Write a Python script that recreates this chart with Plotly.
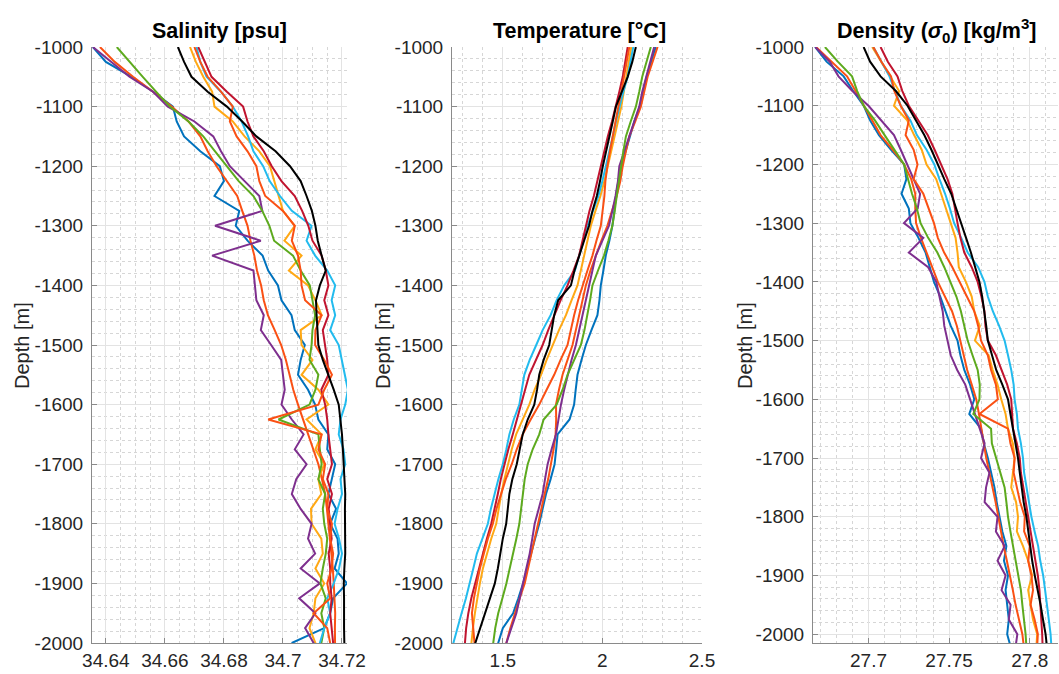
import plotly.graph_objects as go

# ---------------- data ----------------
depth = [-1000, -1025, -1050, -1075, -1100, -1125, -1150, -1175, -1200, -1225,
         -1250, -1275, -1300, -1325, -1350, -1375, -1400, -1425, -1450, -1475,
         -1500, -1525, -1550, -1575, -1600, -1625, -1650, -1675, -1700, -1725,
         -1750, -1775, -1800, -1825, -1850, -1875, -1900, -1925, -1950, -1975,
         -2000, -2025]

series_names = ["blue", "orangered2", "orange", "purple", "green", "cyan", "darkred", "orangered1", "black"]
series_colors = ["#0072BD", "#FA5014", "#FFA814", "#7E2F8E", "#5DAA1E", "#22BBEE", "#C0142F", "#FA5014", "#000000"]

# Salinity [psu]
sal_blue = [34.6356, 34.6400, 34.6487, 34.6560, 34.6627, 34.6640, 34.6665, 34.6720, 34.6786, 34.6800,
            34.6768, 34.6852, 34.6840, 34.6880, 34.6931, 34.6950, 34.6983, 34.6995, 34.7029, 34.7040,
            34.7074, 34.7060, 34.7051, 34.7085, 34.7109, 34.7120, 34.7154, 34.7150, 34.7177, 34.7165,
            34.7154, 34.7180, 34.7160, 34.7185, 34.7189, 34.7175, 34.7217, 34.7170, 34.7160, 34.7140,
            34.7030, 34.7140]
sal_orangered2 = [34.6380, 34.6430, 34.6492, 34.6560, 34.6623, 34.6680, 34.6720, 34.6745, 34.6775, 34.6810,
                  34.6845, 34.6862, 34.6880, 34.6890, 34.6903, 34.6912, 34.6926, 34.6935, 34.6949, 34.6972,
                  34.6994, 34.7010, 34.7023, 34.7035, 34.7051, 34.7068, 34.7086, 34.7103, 34.7120, 34.7132,
                  34.7143, 34.7149, 34.7154, 34.7160, 34.7166, 34.7169, 34.7172, 34.7175, 34.7177, 34.7176,
                  34.7177, 34.7177]
sal_orange = [34.6685, 34.6705, 34.6730, 34.6760, 34.6768, 34.6830, 34.6870, 34.6920, 34.6956, 34.6970,
              34.6985, 34.7000, 34.7040, 34.7005, 34.7063, 34.7020, 34.7085, 34.7110, 34.7131, 34.7060,
              34.7063, 34.7100, 34.7063, 34.7120, 34.7154, 34.7080, 34.7131, 34.7110, 34.7140, 34.7120,
              34.7130, 34.7095, 34.7097, 34.7130, 34.7135, 34.7110, 34.7140, 34.7110, 34.7104, 34.7090,
              34.7110, 34.7120]
sal_purple = [34.6356, 34.6420, 34.6480, 34.6560, 34.6610, 34.6700, 34.6764, 34.6790, 34.6820, 34.6870,
              34.6920, 34.6930, 34.6770, 34.6925, 34.6760, 34.6900, 34.6905, 34.6910, 34.6935, 34.6925,
              34.6960, 34.6994, 34.7000, 34.7006, 34.6995, 34.7030, 34.7070, 34.7040, 34.7080, 34.7045,
              34.7030, 34.7060, 34.7097, 34.7085, 34.7109, 34.7060, 34.7125, 34.7055, 34.7110, 34.7075,
              34.7104, 34.7110]
sal_green = [34.6437, 34.6480, 34.6525, 34.6570, 34.6617, 34.6680, 34.6730, 34.6770, 34.6810, 34.6850,
             34.6900, 34.6930, 34.6954, 34.6970, 34.7034, 34.7060, 34.7091, 34.7100, 34.7109, 34.7100,
             34.7097, 34.7090, 34.7120, 34.7110, 34.7090, 34.6985, 34.7120, 34.7125, 34.7131, 34.7120,
             34.7143, 34.7135, 34.7140, 34.7150, 34.7145, 34.7135, 34.7127, 34.7145, 34.7130, 34.7140,
             34.7130, 34.7135]
sal_cyan = [34.6707, 34.6720, 34.6741, 34.6790, 34.6830, 34.6860, 34.6882, 34.6900, 34.6933, 34.6955,
            34.6990, 34.7030, 34.7097, 34.7080, 34.7109, 34.7150, 34.7177, 34.7165, 34.7177, 34.7160,
            34.7189, 34.7200, 34.7210, 34.7220, 34.7211, 34.7195, 34.7189, 34.7205, 34.7211, 34.7195,
            34.7200, 34.7185, 34.7175, 34.7190, 34.7200, 34.7190, 34.7172, 34.7150, 34.7160, 34.7140,
            34.7125, 34.7130]
sal_darkred = [34.6713, 34.6735, 34.6758, 34.6810, 34.6865, 34.6880, 34.6900, 34.6935, 34.6962, 34.6995,
               34.7040, 34.7065, 34.7086, 34.7100, 34.7131, 34.7145, 34.7154, 34.7140, 34.7154, 34.7135,
               34.7143, 34.7150, 34.7154, 34.7130, 34.7143, 34.7150, 34.7154, 34.7160, 34.7166, 34.7150,
               34.7166, 34.7155, 34.7160, 34.7165, 34.7155, 34.7160, 34.7160, 34.7165, 34.7160, 34.7165,
               34.7170, 34.7165]
sal_orangered1 = [34.6700, 34.6720, 34.6745, 34.6790, 34.6830, 34.6820, 34.6843, 34.6880, 34.6910, 34.6920,
                  34.6940, 34.7000, 34.7040, 34.7030, 34.7051, 34.7060, 34.7063, 34.7075, 34.7131, 34.7110,
                  34.7109, 34.7140, 34.7166, 34.7140, 34.7120, 34.6950, 34.7131, 34.7120, 34.7143, 34.7135,
                  34.7154, 34.7150, 34.7166, 34.7160, 34.7170, 34.7165, 34.7150, 34.7160, 34.7104, 34.7150,
                  34.7160, 34.7155]
sal_black = [34.6644, 34.6665, 34.6690, 34.6745, 34.6810, 34.6862, 34.6910, 34.6975, 34.7024, 34.7060,
             34.7080, 34.7098, 34.7110, 34.7118, 34.7131, 34.7145, 34.7125, 34.7112, 34.7114, 34.7116,
             34.7120, 34.7135, 34.7154, 34.7172, 34.7189, 34.7195, 34.7200, 34.7203, 34.7206, 34.7209,
             34.7211, 34.7210, 34.7211, 34.7212, 34.7211, 34.7208, 34.7206, 34.7207, 34.7206, 34.7207,
             34.7208, 34.7208]

# Temperature [degC]
temp_blue = [2.268, 2.245, 2.222, 2.205, 2.188, 2.160, 2.138, 2.115, 2.095, 2.080,
             2.068, 2.060, 2.050, 2.035, 2.017, 2.005, 1.992, 1.985, 1.975, 1.945,
             1.917, 1.895, 1.875, 1.866, 1.858, 1.835, 1.775, 1.768, 1.760, 1.740,
             1.717, 1.700, 1.683, 1.662, 1.643, 1.622, 1.602, 1.578, 1.552, 1.500,
             1.477, 1.465]
temp_orangered2 = [2.277, 2.252, 2.227, 2.210, 2.193, 2.165, 2.135, 2.118, 2.102, 2.090,
                   2.072, 2.048, 2.025, 1.995, 1.967, 1.940, 1.917, 1.900, 1.883, 1.868,
                   1.850, 1.825, 1.800, 1.782, 1.767, 1.768, 1.765, 1.755, 1.742, 1.728,
                   1.710, 1.692, 1.677, 1.660, 1.643, 1.628, 1.610, 1.585, 1.560, 1.538,
                   1.518, 1.508]
temp_orange = [2.145, 2.132, 2.120, 2.108, 2.095, 2.078, 2.060, 2.043, 2.027, 2.010,
               1.990, 1.965, 1.942, 1.925, 1.908, 1.892, 1.875, 1.845, 1.817, 1.782,
               1.750, 1.720, 1.692, 1.660, 1.633, 1.598, 1.567, 1.545, 1.525, 1.508,
               1.492, 1.478, 1.467, 1.442, 1.420, 1.400, 1.385, 1.372, 1.360, 1.350,
               1.343, 1.335]
temp_purple = [2.260, 2.240, 2.218, 2.200, 2.185, 2.160, 2.135, 2.110, 2.085, 2.078,
               2.066, 2.050, 2.033, 2.000, 1.967, 1.950, 1.933, 1.917, 1.900, 1.885,
               1.867, 1.845, 1.825, 1.808, 1.792, 1.780, 1.767, 1.745, 1.725, 1.712,
               1.700, 1.680, 1.660, 1.648, 1.635, 1.618, 1.600, 1.585, 1.568, 1.542,
               1.518, 1.505]
temp_green = [2.243, 2.222, 2.200, 2.185, 2.168, 2.142, 2.118, 2.105, 2.093, 2.082,
              2.072, 2.062, 2.050, 2.030, 2.008, 1.978, 1.950, 1.938, 1.925, 1.910,
              1.892, 1.858, 1.825, 1.800, 1.770, 1.705, 1.683, 1.650, 1.625, 1.610,
              1.600, 1.590, 1.583, 1.568, 1.552, 1.535, 1.518, 1.498, 1.477, 1.462,
              1.452, 1.442]
temp_cyan = [2.155, 2.142, 2.127, 2.105, 2.085, 2.068, 2.052, 2.035, 2.018, 2.000,
             1.980, 1.952, 1.925, 1.905, 1.883, 1.862, 1.808, 1.770, 1.740, 1.700,
             1.668, 1.635, 1.608, 1.596, 1.583, 1.555, 1.533, 1.518, 1.500, 1.478,
             1.458, 1.440, 1.425, 1.398, 1.370, 1.352, 1.335, 1.315, 1.293, 1.272,
             1.252, 1.235]
temp_darkred = [2.127, 2.115, 2.102, 2.085, 2.068, 2.048, 2.027, 2.010, 1.993, 1.975,
                1.957, 1.935, 1.917, 1.900, 1.883, 1.855, 1.825, 1.790, 1.758, 1.728,
                1.700, 1.665, 1.633, 1.612, 1.592, 1.570, 1.550, 1.528, 1.508, 1.490,
                1.475, 1.458, 1.442, 1.420, 1.400, 1.380, 1.360, 1.342, 1.327, 1.316,
                1.310, 1.302]
temp_orangered1 = [2.135, 2.122, 2.110, 2.095, 2.080, 2.065, 2.050, 2.038, 2.025, 2.015,
                   2.010, 2.000, 1.992, 1.970, 1.950, 1.925, 1.900, 1.878, 1.858, 1.842,
                   1.825, 1.790, 1.758, 1.720, 1.683, 1.640, 1.600, 1.570, 1.545, 1.515,
                   1.490, 1.468, 1.450, 1.425, 1.405, 1.385, 1.370, 1.355, 1.345, 1.350,
                   1.358, 1.355]
temp_black = [2.168, 2.150, 2.127, 2.098, 2.068, 2.052, 2.035, 2.018, 2.002, 1.988,
              1.972, 1.950, 1.933, 1.908, 1.883, 1.860, 1.842, 1.778, 1.758, 1.745,
              1.733, 1.705, 1.683, 1.672, 1.658, 1.625, 1.600, 1.585, 1.570, 1.548,
              1.533, 1.525, 1.517, 1.500, 1.488, 1.475, 1.460, 1.435, 1.410, 1.385,
              1.362, 1.345]

# Density sigma0 [kg/m3]
dens_blue = [27.6669, 27.6740, 27.6846, 27.6905, 27.6970, 27.7010, 27.7065, 27.7140, 27.7221, 27.7235,
             27.7205, 27.7250, 27.7260, 27.7310, 27.7354, 27.7380, 27.7406, 27.7445, 27.7479, 27.7510,
             27.7552, 27.7570, 27.7594, 27.7630, 27.7656, 27.7625, 27.7698, 27.7715, 27.7740, 27.7760,
             27.7781, 27.7795, 27.7813, 27.7830, 27.7855, 27.7840, 27.7865, 27.7850, 27.7860, 27.7870,
             27.7860, 27.7885]
dens_orangered2 = [27.6675, 27.6770, 27.6867, 27.6920, 27.6970, 27.7020, 27.7075, 27.7150, 27.7221, 27.7265,
                   27.7290, 27.7290, 27.7295, 27.7325, 27.7358, 27.7395, 27.7430, 27.7475, 27.7518, 27.7548,
                   27.7570, 27.7592, 27.7612, 27.7640, 27.7668, 27.7685, 27.7700, 27.7715, 27.7730, 27.7750,
                   27.7771, 27.7788, 27.7805, 27.7820, 27.7838, 27.7858, 27.7878, 27.7895, 27.7912, 27.7935,
                   27.7954, 27.7965]
dens_orange = [27.7023, 27.7080, 27.7138, 27.7190, 27.7158, 27.7240, 27.7283, 27.7330, 27.7360, 27.7420,
               27.7450, 27.7480, 27.7510, 27.7540, 27.7552, 27.7560, 27.7604, 27.7640, 27.7656, 27.7690,
               27.7660, 27.7745, 27.7770, 27.7800, 27.7823, 27.7850, 27.7865, 27.7895, 27.7906, 27.7895,
               27.7885, 27.7915, 27.7927, 27.7920, 27.7958, 27.7990, 27.8015, 27.7990, 27.8005, 27.8020,
               27.8046, 27.8040]
dens_purple = [27.6670, 27.6760, 27.6814, 27.6900, 27.7000, 27.7080, 27.7158, 27.7200, 27.7240, 27.7280,
               27.7320, 27.7305, 27.7220, 27.7340, 27.7250, 27.7370, 27.7420, 27.7440, 27.7460, 27.7470,
               27.7490, 27.7510, 27.7550, 27.7600, 27.7630, 27.7660, 27.7690, 27.7720, 27.7698, 27.7750,
               27.7729, 27.7720, 27.7800, 27.7790, 27.7844, 27.7800, 27.7850, 27.7825, 27.7881, 27.7870,
               27.7923, 27.7910]
dens_green = [27.6730, 27.6810, 27.6898, 27.6930, 27.6970, 27.7040, 27.7100, 27.7160, 27.7221, 27.7245,
              27.7270, 27.7300, 27.7323, 27.7370, 27.7427, 27.7470, 27.7510, 27.7545, 27.7573, 27.7595,
              27.7615, 27.7645, 27.7677, 27.7690, 27.7688, 27.7650, 27.7760, 27.7765, 27.7792, 27.7820,
              27.7844, 27.7855, 27.7865, 27.7880, 27.7896, 27.7910, 27.7927, 27.7945, 27.7954, 27.7965,
              27.7974, 27.7980]
dens_cyan = [27.7030, 27.7080, 27.7130, 27.7165, 27.7200, 27.7260, 27.7300, 27.7360, 27.7408, 27.7440,
             27.7475, 27.7505, 27.7531, 27.7575, 27.7615, 27.7680, 27.7719, 27.7740, 27.7771, 27.7810,
             27.7844, 27.7865, 27.7885, 27.7900, 27.7906, 27.7920, 27.7927, 27.7945, 27.7958, 27.7965,
             27.7979, 27.7995, 27.8010, 27.8030, 27.8052, 27.8065, 27.8083, 27.8095, 27.8108, 27.8118,
             27.8129, 27.8135]
dens_darkred = [27.7075, 27.7120, 27.7180, 27.7210, 27.7250, 27.7310, 27.7367, 27.7410, 27.7450, 27.7490,
                27.7520, 27.7535, 27.7552, 27.7570, 27.7594, 27.7640, 27.7677, 27.7700, 27.7719, 27.7725,
                27.7740, 27.7790, 27.7823, 27.7860, 27.7885, 27.7890, 27.7896, 27.7920, 27.7938, 27.7945,
                27.7960, 27.7975, 27.7990, 27.8005, 27.8021, 27.8035, 27.8050, 27.8060, 27.8067, 27.8070,
                27.8077, 27.8080]
dens_orangered1 = [27.7030, 27.7080, 27.7140, 27.7160, 27.7200, 27.7250, 27.7230, 27.7280, 27.7304, 27.7280,
                   27.7340, 27.7375, 27.7406, 27.7430, 27.7469, 27.7520, 27.7563, 27.7610, 27.7656, 27.7680,
                   27.7698, 27.7740, 27.7760, 27.7790, 27.7802, 27.7688, 27.7865, 27.7880, 27.7906, 27.7900,
                   27.7920, 27.7940, 27.7969, 27.7965, 27.8000, 27.7990, 27.8010, 27.8020, 27.8005, 27.8030,
                   27.8050, 27.8045]
dens_black = [27.6970, 27.7010, 27.7075, 27.7170, 27.7242, 27.7295, 27.7346, 27.7390, 27.7429, 27.7470,
              27.7513, 27.7545, 27.7573, 27.7605, 27.7635, 27.7662, 27.7688, 27.7705, 27.7719, 27.7730,
              27.7740, 27.7765, 27.7792, 27.7830, 27.7865, 27.7880, 27.7896, 27.7912, 27.7927, 27.7938,
              27.7948, 27.7962, 27.7979, 27.7990, 27.8000, 27.8015, 27.8031, 27.8050, 27.8067, 27.8082,
              27.8098, 27.8108]

sal_series = [sal_blue, sal_orangered2, sal_orange, sal_purple, sal_green, sal_cyan, sal_darkred, sal_orangered1, sal_black]
temp_series = [temp_blue, temp_orangered2, temp_orange, temp_purple, temp_green, temp_cyan, temp_darkred, temp_orangered1, temp_black]
dens_series = [dens_blue, dens_orangered2, dens_orange, dens_purple, dens_green, dens_cyan, dens_darkred, dens_orangered1, dens_black]

sal_ticks = [34.64, 34.66, 34.68, 34.70, 34.72]
sal_ticktext = ["34.64", "34.66", "34.68", "34.7", "34.72"]
temp_ticks = [1.5, 2.0, 2.5]
temp_ticktext = ["1.5", "2", "2.5"]
dens_ticks = [27.70, 27.75, 27.80]
dens_ticktext = ["27.7", "27.75", "27.8"]
depth_ticks = [-1000, -1100, -1200, -1300, -1400, -1500, -1600, -1700, -1800, -1900, -2000]
depth_ticktext = ["-1000", "-1100", "-1200", "-1300", "-1400", "-1500", "-1600", "-1700", "-1800", "-1900", "-2000"]

# ---------------- figure ----------------
W, H = 1059, 674
fig = go.Figure()

panels = [(sal_series, "x", "y"), (temp_series, "x2", "y2"), (dens_series, "x3", "y3")]
for data, xa, ya in panels:
    for vals, col, name in zip(data, series_colors, series_names):
        fig.add_trace(go.Scatter(x=vals, y=depth, mode="lines", name=name,
                                 line=dict(color=col, width=2),
                                 xaxis=xa, yaxis=ya, showlegend=False, hoverinfo="skip"))

FONT = "Liberation Sans, Arial, Helvetica, sans-serif"
TICKFONT = dict(family=FONT, size=19, color="#262626")
GRID = "#e3e3e3"
MINOR = "#d6d6d6"
AXLINE = "#8a8a8a"

def xax(domain, rng, tv, tt, minor_dtick, minor_tick0, anchor):
    return dict(domain=domain, range=rng, anchor=anchor, tickmode="array", tickvals=tv, ticktext=tt,
                automargin=False,
                showgrid=True, gridcolor=GRID, gridwidth=1, zeroline=False,
                showline=True, linecolor=AXLINE, linewidth=1, mirror=False,
                ticks="inside", ticklen=5, tickcolor=AXLINE, tickfont=TICKFONT,
                minor=dict(dtick=minor_dtick, tick0=minor_tick0, showgrid=True, gridcolor=MINOR,
                           griddash="dot", gridwidth=1, ticks=""),
                fixedrange=True)

def yax(rng, anchor):
    return dict(domain=[31 / H, 1 - 47 / H], range=rng, anchor=anchor, tickmode="array",
                tickvals=depth_ticks, ticktext=depth_ticktext,
                automargin=False,
                showgrid=True, gridcolor=GRID, gridwidth=1, zeroline=False,
                showline=True, linecolor=AXLINE, linewidth=1, mirror=False,
                ticks="inside", ticklen=5, tickcolor=AXLINE, tickfont=TICKFONT,
                ticklabelstandoff=4,
                minor=dict(dtick=20, tick0=-1000, showgrid=True, gridcolor=MINOR,
                           griddash="dot", gridwidth=1, ticks=""),
                fixedrange=True)

fig.update_layout(
    width=W, height=H,
    margin=dict(l=0, r=0, t=0, b=0, autoexpand=False),
    paper_bgcolor="white", plot_bgcolor="white",
    xaxis=xax([92 / W, 347 / W], [34.6353, 34.7217], sal_ticks, sal_ticktext, 0.005, 34.64, "y"),
    xaxis2=xax([452 / W, 702 / W], [1.245, 2.5], temp_ticks, temp_ticktext, 0.1, 1.5, "y2"),
    xaxis3=xax([813 / W, 1058 / W], [27.6656, 27.8175], dens_ticks, dens_ticktext, 0.01, 27.7, "y3"),
    yaxis=yax([-2000, -1000], "x"),
    yaxis2=yax([-2000, -1000], "x2"),
    yaxis3=yax([-2015, -1000], "x3"),
)

titles = [("<b>Salinity [psu]</b>", 219.5),
          ("<b>Temperature [°C]</b>", 579),
          ("<b>Density (<i>σ</i><sub>0</sub>) [kg/m<sup>3</sup>]</b>", 937)]
for txt, cx in titles:
    fig.add_annotation(text=txt, x=cx / W, y=1 - 31 / H, xref="paper", yref="paper",
                       xanchor="center", yanchor="middle", showarrow=False,
                       font=dict(family=FONT, size=21.5, color="#000000"))

for cx in [22, 383, 745]:
    fig.add_annotation(text="Depth [m]", x=cx / W, y=1 - 346 / H, xref="paper", yref="paper",
                       xanchor="center", yanchor="middle", showarrow=False, textangle=-90,
                       font=dict(family=FONT, size=20, color="#262626"))

fig.write_html("out.html")
